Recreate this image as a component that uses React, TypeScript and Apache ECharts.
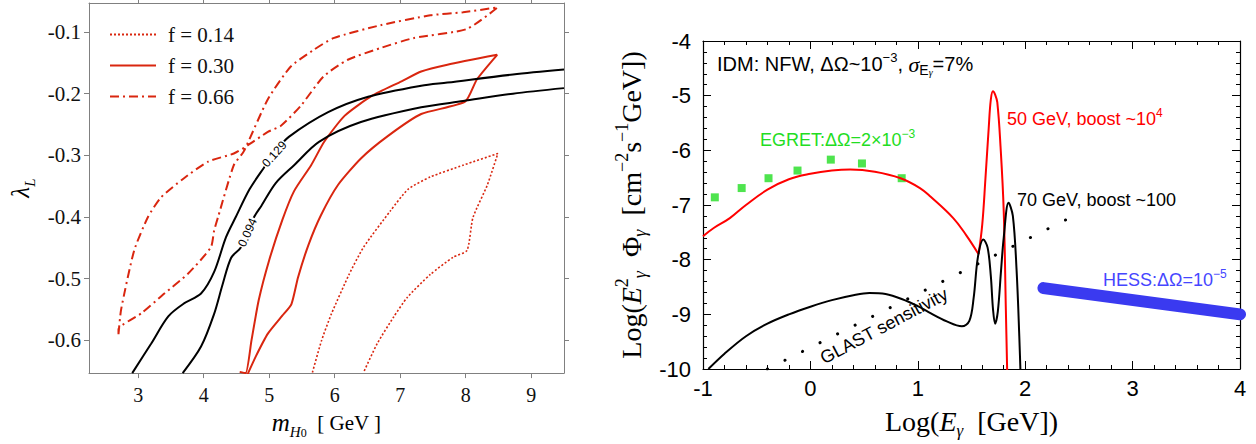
import React, { useEffect, useRef } from "react";
import * as echarts from "echarts";

// ---------- Left panel data ----------
const leftXTicks = [3, 4, 5, 6, 7, 8, 9];
const leftYTicks = [-0.6, -0.5, -0.4, -0.3, -0.2, -0.1];

const f014 = [
  [5.66, -0.652], [5.8, -0.6], [5.95, -0.557], [6.22, -0.493], [6.44, -0.449], [6.85, -0.39],
  [7.12, -0.355], [7.46, -0.335], [7.96, -0.316], [8.49, -0.297], [8.33, -0.348], [8.11, -0.401],
  [8.02, -0.454], [7.81, -0.465], [7.46, -0.493], [7.11, -0.53], [6.9, -0.562], [6.65, -0.605],
  [6.44, -0.652],
];
const f030 = [
  [4.55, -0.651], [4.64, -0.653], [4.73, -0.6], [4.84, -0.535], [5.0, -0.47], [5.2, -0.405],
  [5.38, -0.358], [5.64, -0.316], [5.84, -0.278], [6.15, -0.236], [6.56, -0.204], [7.02, -0.18],
  [7.32, -0.164], [7.72, -0.153], [8.48, -0.137], [8.17, -0.177], [7.99, -0.213], [7.32, -0.233],
  [6.82, -0.268], [6.4, -0.305], [6.05, -0.348], [5.79, -0.397], [5.6, -0.445], [5.44, -0.498],
  [5.34, -0.541], [5.2, -0.56], [4.98, -0.589], [4.8, -0.625], [4.67, -0.655],
];
const f066 = [
  [2.7, -0.59], [2.74, -0.55], [2.94, -0.454], [3.15, -0.40], [3.35, -0.368], [3.7, -0.337],
  [4.07, -0.31], [4.46, -0.297], [4.67, -0.284], [4.98, -0.262], [5.18, -0.252], [5.48, -0.22],
  [5.83, -0.172], [6.2, -0.145], [6.7, -0.126], [7.2, -0.11], [8.02, -0.095], [8.49, -0.06],
  [7.96, -0.068], [7.46, -0.073], [6.7, -0.089], [5.98, -0.11], [5.68, -0.129], [5.33, -0.156],
  [4.98, -0.209], [4.61, -0.294], [4.46, -0.316], [4.22, -0.40], [4.16, -0.422], [4.11, -0.449],
  [3.76, -0.492], [3.4, -0.524], [3.05, -0.556], [2.7, -0.582], [2.7, -0.59],
];
const black129 = [
  [2.91, -0.653], [3.2, -0.605], [3.46, -0.561], [3.7, -0.54], [3.96, -0.524], [4.16, -0.489],
  [4.34, -0.433], [4.49, -0.40], [4.7, -0.355], [4.92, -0.32], [5.1, -0.293], [5.3, -0.27],
  [5.9, -0.23], [6.51, -0.205], [7.32, -0.187], [7.72, -0.182], [8.72, -0.169], [9.5, -0.161],
];
const black094 = [
  [3.68, -0.653], [3.96, -0.61], [4.16, -0.557], [4.29, -0.509], [4.42, -0.466], [4.57, -0.449],
  [4.77, -0.40], [4.88, -0.382], [5.1, -0.345], [5.38, -0.316], [5.76, -0.278], [6.4, -0.246],
  [7.32, -0.222], [7.96, -0.212], [8.72, -0.2], [9.5, -0.191],
];
const contourLabels = [
  { text: "0.129", coord: [5.08, -0.298], rotate: 48 },
  { text: "0.094", coord: [4.67, -0.425], rotate: 66 },
];
const legendNames = ["f = 0.14", "f = 0.30", "f = 0.66"];

// ---------- Right panel data ----------
const redContinuum = [
  [-1, -7.57], [-0.9, -7.42], [-0.75, -7.24], [-0.6, -7.0], [-0.4, -6.72], [-0.2, -6.53],
  [0, -6.43], [0.2, -6.37], [0.37, -6.35], [0.6, -6.39], [0.84, -6.51], [1.02, -6.69],
  [1.12, -6.85], [1.33, -7.24], [1.45, -7.55], [1.566, -7.9],
];
const redPeak = [
  [1.566, -7.9], [1.6, -7.36], [1.63, -6.51], [1.66, -5.6], [1.68, -5.07], [1.7, -4.92],
  [1.72, -4.98], [1.74, -5.12], [1.77, -5.92], [1.8, -7.11], [1.82, -8.92], [1.835, -10.3],
];
const black70 = [
  [-0.95, -10.0], [-0.8, -9.72], [-0.6, -9.4], [-0.4, -9.17], [-0.2, -9.0], [0, -8.86],
  [0.2, -8.74], [0.4, -8.65], [0.55, -8.61], [0.7, -8.63], [0.85, -8.72], [1.0, -8.85],
  [1.1, -8.96], [1.27, -9.13], [1.41, -9.22], [1.48, -9.12], [1.52, -8.7], [1.56, -7.95],
  [1.61, -7.63], [1.65, -7.78], [1.68, -8.3], [1.7, -8.9], [1.72, -9.17], [1.745, -8.95],
  [1.775, -8.2], [1.8, -7.6], [1.845, -6.96], [1.885, -7.2], [1.92, -8.2], [1.945, -9.4],
  [1.96, -10.3],
];
const glast = [[-0.4, -10], [2.41, -7.24]];
const hess = [[2.17, -8.52], [4, -9.0]];
const egretX = [-0.89, -0.64, -0.39, -0.12, 0.19, 0.48, 0.85];
const egretY = [-6.86, -6.69, -6.51, -6.37, -6.17, -6.24, -6.51];

const LRED = "#d9260f";
const GRAY = "#808080";
const SERIF = "Liberation Serif";
const SANS = "Liberation Sans";

function buildOption() {
  const leftAxisBase = {
    gridIndex: 0,
    type: "value",
    splitLine: { show: false },
    axisLine: { onZero: false, lineStyle: { color: GRAY, width: 1 } },
  };
  const rightAxisBase = {
    gridIndex: 1,
    type: "value",
    interval: 1,
    splitLine: { show: false },
    axisLine: { onZero: false, lineStyle: { color: "#000", width: 1.2 } },
    axisTick: { inside: true, length: 8, lineStyle: { color: "#000" } },
    minorTick: { show: true, splitNumber: 5, length: 4, lineStyle: { color: "#000" } },
  };
  const mkRich = (size, small) => ({
    n: { fontFamily: SERIF, fontSize: size, color: "#000", lineHeight: size + 8 },
    i: { fontFamily: SERIF, fontStyle: "italic", fontSize: size, color: "#000", lineHeight: size + 8 },
    sub: { fontFamily: SERIF, fontStyle: "italic", fontSize: small, color: "#000", lineHeight: small - 2, verticalAlign: "bottom" },
    subn: { fontFamily: SERIF, fontSize: small - 3, color: "#000", lineHeight: small - 6, verticalAlign: "bottom" },
    sup: { fontFamily: SERIF, fontSize: small, color: "#000", lineHeight: small - 2, verticalAlign: "top" },
  });

  const sansText = (x, y, text, color, size, rich?) => ({
    type: "text",
    x,
    y,
    style: {
      text,
      fill: color,
      fontFamily: SANS,
      fontSize: size,
      align: "left",
      verticalAlign: "middle",
      textAlign: "left",
      textVerticalAlign: "middle",
      rich,
    },
  });

  return {
    animation: false,
    backgroundColor: "#fff",
    grid: [
      { left: 89, top: 3, width: 475, height: 374 },
      { left: 703, top: 41, width: 537, height: 332 },
    ],
    legend: {
      left: 104,
      top: 19,
      orient: "vertical",
      data: legendNames,
      itemWidth: 46,
      itemHeight: 12,
      itemGap: 10,
      itemStyle: { opacity: 0 },
      textStyle: { fontFamily: SERIF, fontSize: 21, color: "#111", padding: [0, 0, 0, 7] },
    },
    xAxis: [
      {
        ...leftAxisBase,
        position: "bottom",
        min: 2.25,
        max: 9.5,
        axisTick: { length: 5, customValues: leftXTicks, lineStyle: { color: GRAY } },
        axisLabel: { customValues: leftXTicks, fontFamily: SERIF, fontSize: 20, color: "#111", margin: 12 },
        name: "{i|m}{sub|H}{subn|0}{n|  [ GeV ]}",
        nameLocation: "middle",
        nameGap: 32,
        nameTextStyle: { rich: { ...mkRich(25, 15), n: { fontFamily: SERIF, fontSize: 21, color: "#000", lineHeight: 32 } } },
      },
      {
        ...leftAxisBase,
        position: "top",
        min: 2.25,
        max: 9.5,
        axisTick: { length: 5, customValues: leftXTicks, lineStyle: { color: GRAY } },
        axisLabel: { show: false },
      },
      {
        ...rightAxisBase,
        position: "bottom",
        min: -1,
        max: 4,
        axisLabel: { fontFamily: SANS, fontSize: 22, color: "#000", margin: 8 },
        name: "{n|Log(}{i|E}{sub|γ}{n|  [GeV])}",
        nameLocation: "middle",
        nameGap: 34,
        nameTextStyle: { rich: mkRich(28, 17) },
      },
      {
        ...rightAxisBase,
        position: "top",
        min: -1,
        max: 4,
        axisLabel: { show: false },
      },
    ],
    yAxis: [
      {
        ...leftAxisBase,
        position: "left",
        min: -0.653,
        max: -0.053,
        axisTick: { length: 5, customValues: leftYTicks, lineStyle: { color: GRAY } },
        axisLabel: {
          customValues: leftYTicks,
          fontFamily: SERIF,
          fontSize: 21,
          color: "#111",
          margin: 8,
          formatter: (v) => v.toFixed(1),
        },
        name: "{i|λ}{sub|L}",
        nameLocation: "middle",
        nameGap: 52,
        nameTextStyle: { rich: mkRich(25, 15) },
      },
      {
        ...leftAxisBase,
        position: "right",
        min: -0.653,
        max: -0.053,
        axisTick: { length: 5, customValues: leftYTicks, lineStyle: { color: GRAY } },
        axisLabel: { show: false },
      },
      {
        ...rightAxisBase,
        position: "left",
        min: -10,
        max: -4,
        axisLabel: { fontFamily: SANS, fontSize: 22, color: "#000", margin: 12 },
        name: "{n|Log(}{i|E}{sup|2}{sub|γ}{n|  Φ}{sub|γ}{n|  [cm}{sup|−2}{n|s}{sup|−1}{n|GeV])}",
        nameLocation: "middle",
        nameGap: 54,
        nameTextStyle: { rich: mkRich(28, 18) },
      },
      {
        ...rightAxisBase,
        position: "right",
        min: -10,
        max: -4,
        axisLabel: { show: false },
      },
    ],
    series: [
      {
        type: "line", name: "f = 0.14", xAxisIndex: 0, yAxisIndex: 0, data: f014,
        symbol: "none", smooth: 0.2, color: LRED,
        lineStyle: { color: LRED, width: 1.6, type: [2, 2] },
      },
      {
        type: "line", name: "f = 0.30", xAxisIndex: 0, yAxisIndex: 0, data: f030,
        symbol: "none", smooth: 0.2, color: LRED,
        lineStyle: { color: LRED, width: 2 },
      },
      {
        type: "line", name: "f = 0.66", xAxisIndex: 0, yAxisIndex: 0, data: f066,
        symbol: "none", smooth: 0.2, color: LRED,
        lineStyle: { color: LRED, width: 2, type: [9, 4, 2, 4] },
      },
      ...[black129, black094].map((d, k) => ({
        type: "line", name: contourLabels[k].text, xAxisIndex: 0, yAxisIndex: 0, data: d,
        symbol: "none", smooth: 0.3, color: "#000", z: 3,
        lineStyle: { color: "#000", width: 2 },
        markPoint: {
          symbol: "rect",
          symbolSize: [1, 1],
          itemStyle: { color: "rgba(0,0,0,0)" },
          label: {
            show: true, position: "inside", formatter: contourLabels[k].text,
            rotate: contourLabels[k].rotate, fontFamily: SANS, fontSize: 12, color: "#000",
            backgroundColor: "#fff", padding: [0, 1],
          },
          data: [{ coord: contourLabels[k].coord }],
        },
      })),
      {
        type: "line", name: "GLAST", xAxisIndex: 2, yAxisIndex: 2, data: glast,
        symbol: "none", color: "#000",
        lineStyle: { color: "#000", width: 3, type: [0.1, 19.5], cap: "round" },
      },
      {
        type: "line", name: "50 GeV continuum", xAxisIndex: 2, yAxisIndex: 2, data: redContinuum,
        symbol: "none", smooth: 0.4, color: "#ff0000",
        lineStyle: { color: "#ff0000", width: 2 },
      },
      {
        type: "line", name: "50 GeV line", xAxisIndex: 2, yAxisIndex: 2, data: redPeak,
        symbol: "none", smooth: 0.4, color: "#ff0000",
        lineStyle: { color: "#ff0000", width: 2 },
      },
      {
        type: "line", name: "70 GeV", xAxisIndex: 2, yAxisIndex: 2, data: black70,
        symbol: "none", smooth: 0.35, color: "#000",
        lineStyle: { color: "#000", width: 2 },
      },
      {
        type: "line", name: "HESS", xAxisIndex: 2, yAxisIndex: 2, data: hess,
        symbol: "none", color: "#3a3af0",
        lineStyle: { color: "#3a3af0", width: 12, cap: "round" },
      },
      {
        type: "scatter", name: "EGRET", xAxisIndex: 2, yAxisIndex: 2,
        data: egretX.map((x, i) => [x, egretY[i]]),
        symbol: "rect", symbolSize: 8, itemStyle: { color: "#22dd22" },
      },
    ],
    graphic: [
      sansText(717, 64, "{a|IDM: NFW, ΔΩ~10}{sup|−3}{a|, }{g|σ}{sub|E}{subsub|γ}{a|=7%}", "#000", 20, {
        a: { fontFamily: SANS, fontSize: 20, color: "#000", lineHeight: 26 },
        sup: { fontFamily: SANS, fontSize: 13, color: "#000", lineHeight: 12, verticalAlign: "top" },
        g: { fontFamily: SERIF, fontStyle: "italic", fontSize: 22, color: "#000", lineHeight: 26 },
        sub: { fontFamily: SANS, fontSize: 14, color: "#000", lineHeight: 12, verticalAlign: "bottom" },
        subsub: { fontFamily: SERIF, fontStyle: "italic", fontSize: 10, color: "#000", lineHeight: 6, verticalAlign: "bottom" },
      }),
      sansText(760, 140, "{a|EGRET:ΔΩ=2×10}{sup|−3}", "#22dd22", 18, {
        a: { fontFamily: SANS, fontSize: 18, color: "#22dd22", lineHeight: 24 },
        sup: { fontFamily: SANS, fontSize: 12, color: "#22dd22", lineHeight: 12, verticalAlign: "top" },
      }),
      sansText(1007, 119, "{a|50 GeV, boost ~10}{sup|4}", "#ff0000", 18, {
        a: { fontFamily: SANS, fontSize: 18, color: "#ff0000", lineHeight: 24 },
        sup: { fontFamily: SANS, fontSize: 12, color: "#ff0000", lineHeight: 12, verticalAlign: "top" },
      }),
      sansText(1017, 200, "70 GeV, boost ~100", "#000", 18),
      sansText(1103, 280, "{a|HESS:ΔΩ=10}{sup|−5}", "#4646ff", 18, {
        a: { fontFamily: SANS, fontSize: 18, color: "#4646ff", lineHeight: 24 },
        sup: { fontFamily: SANS, fontSize: 12, color: "#4646ff", lineHeight: 12, verticalAlign: "top" },
      }),
      {
        type: "text",
        x: 884,
        y: 326,
        rotation: (28 * Math.PI) / 180,
        style: {
          text: "GLAST sensitivity",
          fill: "#000",
          fontFamily: SANS,
          fontSize: 18,
          align: "center",
          verticalAlign: "middle",
          textAlign: "center",
          textVerticalAlign: "middle",
        },
      },
    ],
  };
}

export default function App() {
  const ref = useRef<HTMLDivElement>(null);
  useEffect(() => {
    document.body.style.margin = "0";
    const chart = echarts.init(ref.current!, null, { renderer: "svg" });
    chart.setOption(buildOption() as any);
    return () => chart.dispose();
  }, []);
  return <div ref={ref} style={{ width: 1256, height: 444 }} />;
}
